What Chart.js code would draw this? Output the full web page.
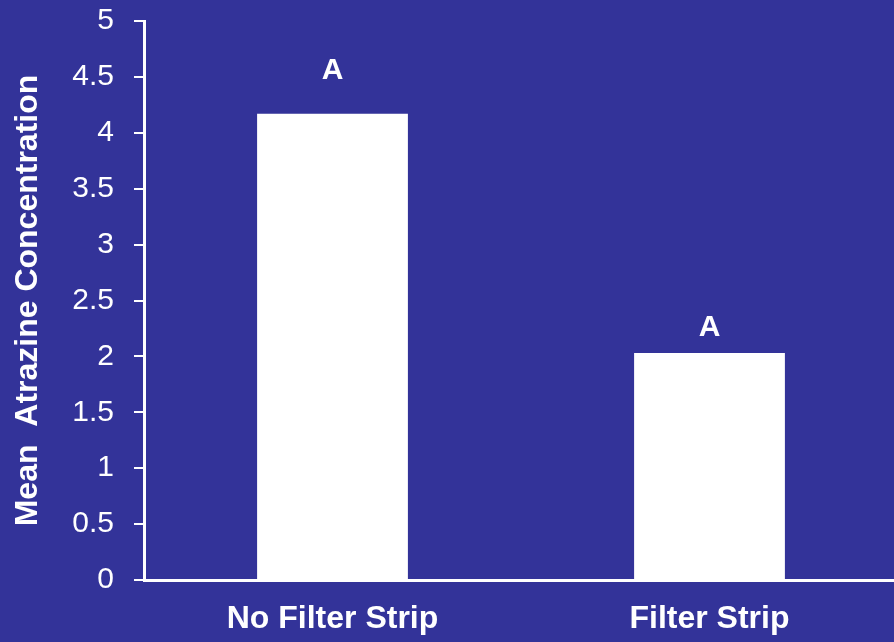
<!DOCTYPE html>
<html>
<head>
<meta charset="utf-8">
<script src="https://cdn.jsdelivr.net/npm/chart.js@4/dist/chart.umd.min.js"></script>
<style>
  html, body { margin: 0; padding: 0; background: #333399; overflow: hidden; }
  #wrap { width: 898px; height: 642px; }
</style>
</head>
<body>
<div id="wrap"><canvas id="chart" width="898" height="642"></canvas></div>
<script>
// Treatments and mean atrazine concentration
const categories = ['No Filter Strip', 'Filter Strip'];
const meanAtrazine = [4.17, 2.03];
const groupLetters = ['A', 'A'];
const yTickLabels = ['0', '0.5', '1', '1.5', '2', '2.5', '3', '3.5', '4', '4.5', '5'];

const BG = '#333399';
const FONT = '"Liberation Sans", Arial, Helvetica, sans-serif';

// Paint the whole canvas with the background colour
const backgroundPlugin = {
  id: 'bgFill',
  beforeDraw(chart) {
    const ctx = chart.ctx;
    ctx.save();
    ctx.fillStyle = BG;
    ctx.fillRect(0, 0, chart.width, chart.height);
    ctx.restore();
  }
};

// Significance letters above each bar
const letterPlugin = {
  id: 'groupLetters',
  afterDatasetsDraw(chart, args, opts) {
    const ctx = chart.ctx;
    const meta = chart.getDatasetMeta(0);
    ctx.save();
    ctx.fillStyle = '#ffffff';
    ctx.font = 'bold 30px ' + FONT;
    ctx.textAlign = 'center';
    ctx.textBaseline = 'alphabetic';
    meta.data.forEach((bar, i) => {
      const gap = opts.gaps[i] || 20;
      ctx.fillText(groupLetters[i], bar.x, bar.y - gap);
    });
    ctx.restore();
  }
};

new Chart(document.getElementById('chart'), {
  type: 'bar',
  data: {
    labels: categories,
    datasets: [{
      data: meanAtrazine,
      backgroundColor: '#ffffff',
      borderWidth: 0,
      barPercentage: 0.4,
      categoryPercentage: 1.0
    }]
  },
  options: {
    responsive: false,
    animation: false,
    layout: { padding: { top: 21, right: 0, left: 0, bottom: 0 } },
    plugins: {
      legend: { display: false },
      tooltip: { enabled: false },
      groupLetters: { gaps: [35, 17] }
    },
    scales: {
      x: {
        grid: { display: false, drawTicks: false },
        border: { display: true, color: '#ffffff', width: 3 },
        ticks: {
          color: '#ffffff',
          font: { family: FONT, size: 32, weight: 'bold' },
          padding: 20,
          maxRotation: 0
        },
        afterFit(scale) {
          scale.height = 62;
          scale.paddingLeft = 0;
          scale.paddingRight = 0;
        }
      },
      y: {
        min: 0,
        max: 5,
        grid: {
          drawOnChartArea: false,
          drawTicks: true,
          tickLength: 10,
          color: '#ffffff',
          lineWidth: 2
        },
        border: { display: true, color: '#ffffff', width: 3 },
        ticks: {
          stepSize: 0.5,
          color: '#ffffff',
          font: { family: FONT, size: 30 },
          padding: 20,
          callback: (value, index) => yTickLabels[index]
        },
        title: {
          display: true,
          text: 'Mean  Atrazine Concentration',
          color: '#ffffff',
          font: { family: FONT, size: 32, weight: 'bold' },
          padding: { top: 9, bottom: 0 }
        },
        afterFit(scale) {
          scale.width = 144;
          scale.paddingTop = 0;
          scale.paddingBottom = 0;
        }
      }
    }
  },
  plugins: [backgroundPlugin, letterPlugin]
});
</script>
</body>
</html>
